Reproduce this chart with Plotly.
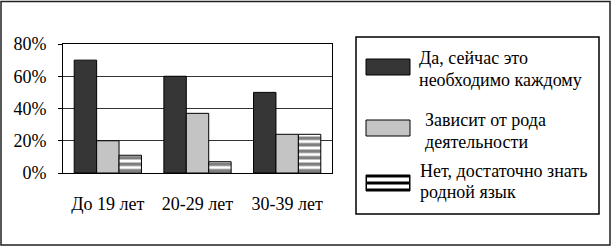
import plotly.graph_objects as go

categories = ["До 19 лет", "20-29 лет", "30-39 лет"]
series_names = ["Да, сейчас это<br>необходимо каждому",
                "Зависит от рода<br>деятельности",
                "Нет, достаточно знать<br>родной язык"]
yes_vals = [70, 60, 50]
depends_vals = [20, 37, 24]
no_vals = [11, 7, 24]
y_ticks = [0, 20, 40, 60, 80]
y_tick_labels = ["0%", "20%", "40%", "60%", "80%"]

W, H = 613, 247
L, R, T, B = 63, 332, 44, 173  # plot area in pixels
FONT = "'Liberation Serif', 'Times New Roman', serif"

def px(x):
    return (x - L) / (R - L)

def py(y):
    return (B - y) / (B - T)

fig = go.Figure()
fig.add_bar(x=categories, y=yes_vals, name=series_names[0],
            marker=dict(color="#363636", line=dict(color="black", width=1)))
fig.add_bar(x=categories, y=depends_vals, name=series_names[1],
            marker=dict(color="#c4c4c4", line=dict(color="black", width=1)))
fig.add_bar(x=categories, y=no_vals, name=series_names[2],
            marker=dict(color="white", line=dict(color="black", width=1),
                        pattern=dict(shape="-", fgcolor="black", bgcolor="white",
                                     size=6.5, solidity=0.55)))

shapes = []
# outer border
shapes.append(dict(type="rect", xref="paper", yref="paper",
                   x0=px(1), x1=px(610), y0=py(245), y1=py(1.5),
                   line=dict(color="#222", width=1.5), fillcolor="rgba(0,0,0,0)", layer="below"))
# legend box
shapes.append(dict(type="rect", xref="paper", yref="paper",
                   x0=px(356), x1=px(599), y0=py(214), y1=py(37),
                   line=dict(color="black", width=1.5), fillcolor="white"))
# legend swatches
sw_x0, sw_x1 = 366, 410
shapes.append(dict(type="rect", xref="paper", yref="paper",
                   x0=px(sw_x0), x1=px(sw_x1), y0=py(75), y1=py(59),
                   line=dict(color="black", width=1), fillcolor="#363636"))
shapes.append(dict(type="rect", xref="paper", yref="paper",
                   x0=px(sw_x0), x1=px(sw_x1), y0=py(136), y1=py(120),
                   line=dict(color="black", width=1), fillcolor="#c4c4c4"))
shapes.append(dict(type="rect", xref="paper", yref="paper",
                   x0=px(sw_x0), x1=px(sw_x1), y0=py(191), y1=py(175),
                   line=dict(color="black", width=1), fillcolor="black"))
for y0, y1 in [(177.5, 181.5), (184.5, 188.5)]:
    shapes.append(dict(type="rect", xref="paper", yref="paper",
                       x0=px(sw_x0 + 1), x1=px(sw_x1 - 1), y0=py(y1), y1=py(y0),
                       line=dict(width=0), fillcolor="white"))

annotations = []
# (text x, centre y of each line) for each legend entry
legend_text_pos = [(417, [58, 80]), (423, [120, 142]), (418, [171, 192])]
for name, (tx, line_ys) in zip(series_names, legend_text_pos):
    for line, ly in zip(name.split("<br>"), line_ys):
        annotations.append(dict(xref="paper", yref="paper", x=px(tx), y=py(ly),
                                xanchor="left", yanchor="middle", align="left",
                                text=line, showarrow=False,
                                font=dict(family=FONT, size=18, color="black")))

fig.update_layout(
    width=W, height=H,
    margin=dict(l=L, r=W - R, t=T, b=H - B, pad=0),
    paper_bgcolor="white", plot_bgcolor="white",
    showlegend=False,
    barmode="group", bargap=0.25, bargroupgap=0,
    shapes=shapes, annotations=annotations,
    font=dict(family=FONT, size=18, color="black"),
)
fig.update_xaxes(showline=True, linecolor="black", linewidth=1, mirror=True,
                 ticks="", showgrid=False, ticklabelstandoff=14,
                 tickfont=dict(family=FONT, size=18, color="black"))
fig.update_yaxes(range=[0, 80], tickvals=y_ticks, ticktext=y_tick_labels,
                 showline=True, linecolor="black", linewidth=1, mirror=True,
                 showgrid=True, gridcolor="#333", gridwidth=1,
                 ticks="outside", ticklen=4, tickcolor="black",
                 ticklabelstandoff=8,
                 tickfont=dict(family=FONT, size=18, color="black"))

fig.write_html("out.html")
